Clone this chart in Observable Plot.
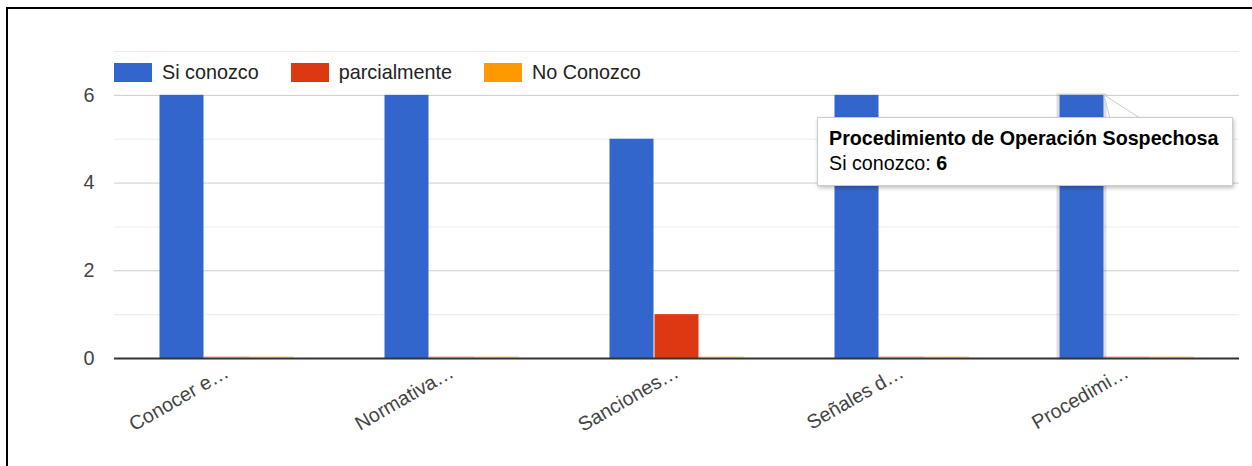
<!DOCTYPE html>
<html>
<head>
<meta charset="utf-8">
<script src="https://cdn.jsdelivr.net/npm/d3@7"></script>
<script src="https://cdn.jsdelivr.net/npm/@observablehq/plot@0.6"></script>
<style>
  html, body { margin: 0; padding: 0; background: #fff; }
  #wrap { position: relative; width: 1252px; height: 466px; overflow: hidden; font-family: "Liberation Sans", Arial, sans-serif; }
  #frame { position: absolute; left: 6px; top: 7px; right: -10px; bottom: -10px; border-left: 2px solid #000; border-top: 2px solid #000; pointer-events: none; }
  #chart { position: absolute; left: 0; top: 0; }
  #legend { position: absolute; left: 114px; top: 61px; display: flex; align-items: center; font-size: 19.8px; color: #222; }
  #legend .item { display: flex; align-items: center; margin-right: 32px; }
  #legend .sw { width: 38px; height: 19px; margin-right: 10px; }
  #tip { position: absolute; left: 817px; top: 117px; width: 392px; padding: 8px 11px 9px 11px; background: #fff; border: 1px solid #ccc; box-shadow: 1px 2px 4px rgba(0,0,0,0.25); font-size: 19.7px; color: #000; line-height: 25px; white-space: nowrap; }
  #tip b { font-weight: bold; }
  #ptr { position: absolute; left: 0; top: 0; pointer-events: none; }
</style>
</head>
<body>
<div id="wrap">
  <div id="chart"></div>
  <svg id="ptr" width="1252" height="466"></svg>
  <div id="legend"></div>
  <div id="tip"></div>
  <div id="frame"></div>
</div>
<script>
// ---- data ----
const categories = ["Conocer e…", "Normativa…", "Sanciones…", "Señales d…", "Procedimi…"];
const seriesNames = ["Si conozco", "parcialmente", "No Conozco"];
const siConozco = [6, 6, 5, 6, 6];
const parcialmente = [0, 0, 1, 0, 0];
const noConozco = [0, 0, 0, 0, 0];
const seriesColors = ["#3366cc", "#dc3912", "#ff9900"];
const yMajorTicks = [0, 2, 4, 6];
const yMinorTicks = [1, 3, 5, 7];
const tooltipTitle = "Procedimiento de Operación Sospechosa";
const tooltipSeries = "Si conozco";
const tooltipCategory = "Procedimi…";

const seriesValues = [siConozco, parcialmente, noConozco];
const rows = [];
categories.forEach((c, i) => {
  seriesNames.forEach((s, j) => rows.push({cat: c, series: s, value: seriesValues[j][i]}));
});
const nonZero = rows.filter(d => d.value > 0);
const zeros = rows.filter(d => d.value === 0);
const hovered = rows.filter(d => d.cat === tooltipCategory && d.series === tooltipSeries);

const plot = Plot.plot({
  width: 1252,
  height: 466,
  marginLeft: 113,
  marginRight: 13,
  marginTop: 51,
  marginBottom: 108,
  style: {fontFamily: '"Liberation Sans", Arial, sans-serif', background: "transparent"},
  fx: {domain: categories, padding: 0, axis: null},
  x: {domain: seriesNames, paddingInner: 0, paddingOuter: 1, axis: null},
  y: {domain: [0, 7], axis: null},
  color: {domain: seriesNames, range: seriesColors},
  marks: [
    Plot.ruleY(yMinorTicks, {stroke: "#ebebeb", strokeWidth: 1}),
    Plot.ruleY(yMajorTicks.filter(v => v !== 0), {stroke: "#cccccc", strokeWidth: 1}),
    Plot.barY(hovered, {fx: "cat", x: "series", y: "value", fill: "none", stroke: "#000", strokeOpacity: 0.13, strokeWidth: 3, insetLeft: -1, insetRight: -1}),
    Plot.barY(nonZero, {fx: "cat", x: "series", y: "value", fill: "series", insetLeft: 0.5, insetRight: 0.5}),
    Plot.tickY(zeros, {fx: "cat", x: "series", y: "value", stroke: "series", strokeOpacity: 0.25, strokeWidth: 2, dy: -1.5}),
    Plot.ruleY([0], {stroke: "#333", strokeWidth: 2}),
    Plot.axisY({ticks: yMajorTicks, tickFormat: "d", tickSize: 0, tickPadding: 20, fontSize: 19.8, color: "#444", label: null}),
    Plot.axisFx({anchor: "bottom", tickSize: 0, tickPadding: 12, tickRotate: -30, fontSize: 19.8, color: "#444", label: null})
  ]
});
document.getElementById("chart").appendChild(plot);

// legend
const legend = document.getElementById("legend");
seriesNames.forEach((s, j) => {
  const it = document.createElement("div");
  it.className = "item";
  it.innerHTML = `<span class="sw" style="background:${seriesColors[j]}"></span><span>${s}</span>`;
  legend.appendChild(it);
});

// tooltip
const ci = categories.indexOf(tooltipCategory);
const si = seriesNames.indexOf(tooltipSeries);
document.getElementById("tip").innerHTML =
  `<b>${tooltipTitle}</b><br>${tooltipSeries}: <b>${seriesValues[si][ci]}</b>`;

// tooltip pointer, attached to the hovered bar's top-right corner
const yScale = plot.scale("y");
const step = (1252 - 113 - 13) / categories.length;
const barRight = 113 + ci * step + (step - 3 * step / 5) / 2 + (si + 1) * (step / 5);
const yTop = yScale.apply(seriesValues[si][ci]);
const ptr = d3.select("#ptr");
ptr.append("path")
  .attr("d", `M${barRight},${yTop} L${barRight + 36},${118} L${barRight + 6},${118} Z`)
  .attr("fill", "#fff").attr("stroke", "#ccc").attr("stroke-width", 1);
</script>
</body>
</html>
